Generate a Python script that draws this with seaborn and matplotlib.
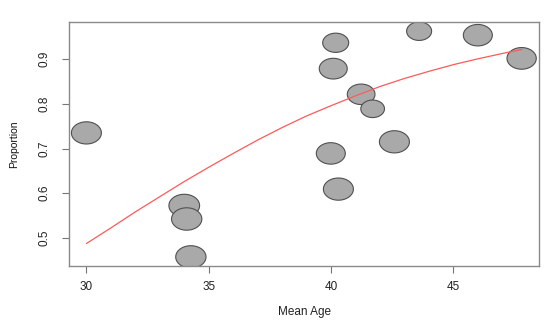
import numpy as np
import pandas as pd
import matplotlib.pyplot as plt
from matplotlib.path import Path
import seaborn as sns

# data
mean_age = [30.0, 40.19, 43.6, 46.0, 47.79, 40.09, 41.23, 41.70, 42.59, 39.99, 40.3, 34.0, 34.1, 34.27]
proportion = [0.735, 0.937, 0.963, 0.954, 0.902, 0.879, 0.8215, 0.789, 0.715, 0.689, 0.609, 0.572, 0.542, 0.457]
bubble = [30, 26, 25, 29, 29.3, 28, 27.7, 23.7, 30, 29, 30, 30.7, 30.3, 30.3]

# fitted curve, read at whole years
fit_age = [30, 31, 32, 33, 34, 35, 36, 37, 38, 39, 40, 41, 42, 43, 44, 45, 46, 47, 47.8]
fit_prop = [0.487, 0.522, 0.558, 0.592, 0.626, 0.658, 0.689, 0.719, 0.747, 0.773,
            0.796, 0.818, 0.839, 0.857, 0.873, 0.888, 0.901, 0.913, 0.922]

df = pd.DataFrame({"age": mean_age, "prop": proportion})
fit = pd.DataFrame({"age": fit_age, "prop": fit_prop})

sns.set_style("white")
plt.rcParams["font.family"] = ["Liberation Sans", "DejaVu Sans"]

# wide ellipse marker (picture was stretched horizontally)
t = np.linspace(0, 2 * np.pi, 60)
ell = Path(np.column_stack([np.cos(t), 0.74 * np.sin(t)]), closed=True)

fig, ax = plt.subplots(figsize=(5.5, 3.21), dpi=100)
fig.subplots_adjust(left=0.1255, right=0.98, top=0.9315, bottom=0.1713)

areas = [(b * 0.72) ** 2 for b in bubble]
sns.scatterplot(data=df, x="age", y="prop", s=areas, marker=ell,
                color="#a9a9a9", edgecolor="#505050", linewidth=0.8, ax=ax, zorder=2)
sns.lineplot(data=fit, x="age", y="prop", color="#ff5a5a", linewidth=0.9, ax=ax, zorder=3)

ax.set_xlim(29.29, 48.5)
ax.set_ylim(0.4366, 0.9836)
ax.set_xticks([30, 35, 40, 45])
ax.set_yticks([0.5, 0.6, 0.7, 0.8, 0.9])
ax.set_yticklabels(["0.5", "0.6", "0.7", "0.8", "0.9"], rotation=90, va="center")
ax.tick_params(axis="both", length=5, width=0.8, color="#777777", labelsize=8.5,
               labelcolor="#222222", left=True, bottom=True)
ax.tick_params(axis="y", pad=8)
ax.tick_params(axis="x", pad=6)
for sp in ax.spines.values():
    sp.set_color("#8a8a8a")
    sp.set_linewidth(1.0)

ax.set_xlabel("Mean Age", fontsize=8.5, color="#222222", labelpad=9)
ax.set_ylabel("Proportion", fontsize=7.5, color="#111111", labelpad=14,
              family=["Liberation Sans Narrow", "Liberation Sans", "DejaVu Sans"])

fig.savefig("out.png", dpi=100)
